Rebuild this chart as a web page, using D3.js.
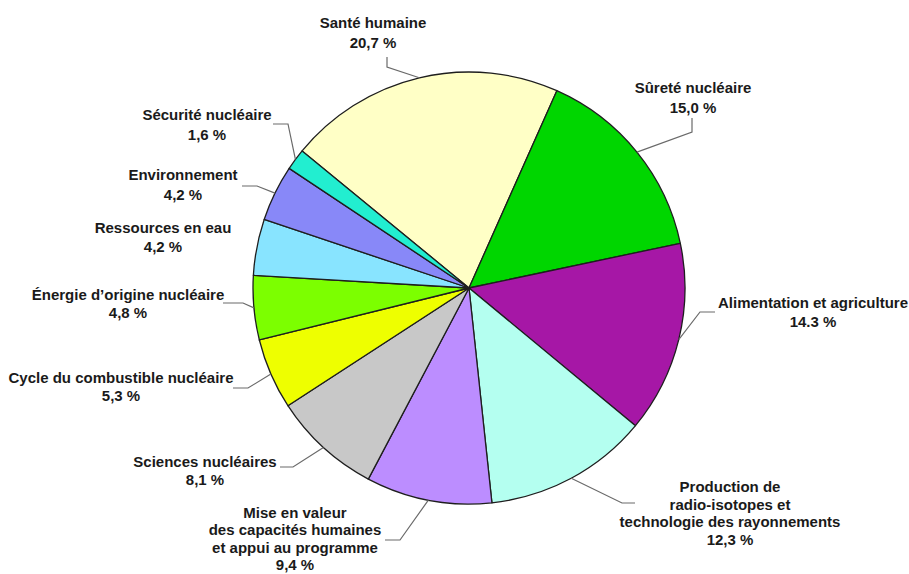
<!DOCTYPE html>
<html lang="fr">
<head>
<meta charset="utf-8">
<script src="https://cdn.jsdelivr.net/npm/d3@7"></script>
<style>
  html, body { margin: 0; padding: 0; background: #fff; }
  svg { display: block; }
  text { font-family: "Liberation Sans", Arial, sans-serif; font-weight: bold; font-size: 15px; fill: #1a1a1a; }
</style>
</head>
<body>
<svg id="chart" width="909" height="574"></svg>
<script>
// Programme areas (clockwise, starting with Santé humaine)
const categories = [
  ["Santé humaine"],
  ["Sûreté nucléaire"],
  ["Alimentation et agriculture"],
  ["Production de", "radio-isotopes et", "technologie des rayonnements"],
  ["Mise en valeur", "des capacités humaines", "et appui au programme"],
  ["Sciences nucléaires"],
  ["Cycle du combustible nucléaire"],
  ["Énergie d’origine nucléaire"],
  ["Ressources en eau"],
  ["Environnement"],
  ["Sécurité nucléaire"]
];
const values = [20.7, 15.0, 14.3, 12.3, 9.4, 8.1, 5.3, 4.8, 4.2, 4.2, 1.6];
const valueLabels = ["20,7 %", "15,0 %", "14.3 %", "12,3 %", "9,4 %", "8,1 %", "5,3 %", "4,8 %", "4,2 %", "4,2 %", "1,6 %"];
const colors = ["#FFFFC6", "#00D600", "#A617A6", "#B4FFF0", "#BC8DFF", "#C8C8C8",
                "#EEFF00", "#7CFF00", "#88E4FF", "#8888F8", "#22EED0"];

// Label placement: text centre x, first baseline y, line step, leader bend points
const labelLayout = [
  { x: 373, y: 28,  step: 20,   leader: [[387, 57], [387, 67]] },
  { x: 693, y: 93,  step: 20,   leader: [[692, 118], [692, 132]] },
  { x: 813, y: 308, step: 19,   leader: [[715, 312], [700, 312]] },
  { x: 730, y: 492, step: 17.7, leader: [[635, 503], [622, 503]] },
  { x: 295, y: 518, step: 17.4, leader: [[385, 540], [400, 540]] },
  { x: 205, y: 467, step: 18,   leader: [[280, 467], [293, 467]] },
  { x: 121, y: 383, step: 17.5, leader: [[233, 388], [248, 388]] },
  { x: 128, y: 300, step: 17.5, leader: [[223, 303], [243, 303]] },
  { x: 163, y: 233, step: 19,   leader: null },
  { x: 183, y: 180, step: 20,   leader: [[242, 186], [257, 186]] },
  { x: 207, y: 120, step: 20,   leader: [[273, 124], [288, 124]] }
];

const cx = 469, cy = 288, radius = 216;
const total = d3.sum(values);
// Santé humaine ends 24° clockwise from twelve o'clock
const startAngle = (24 * Math.PI / 180) - (values[0] / total) * 2 * Math.PI;

const svg = d3.select("#chart");
const g = svg.append("g").attr("transform", `translate(${cx},${cy})`);

const pie = d3.pie().sort(null).value(d => d)
  .startAngle(startAngle).endAngle(startAngle + 2 * Math.PI);
const arcs = pie(values);

const arc = d3.arc().innerRadius(0).outerRadius(radius);
const rim = d3.arc().innerRadius(radius).outerRadius(radius);

g.selectAll("path.slice")
  .data(arcs)
  .join("path")
  .attr("class", "slice")
  .attr("d", arc)
  .attr("fill", (d, i) => colors[i])
  .attr("stroke", "#1e1e1e")
  .attr("stroke-width", 1.3)
  .attr("stroke-linejoin", "round");

// Leader lines from the rim of each slice to its label
const line = d3.line();
svg.selectAll("path.leader")
  .data(arcs.filter((d, i) => labelLayout[i].leader))
  .join("path")
  .attr("class", "leader")
  .attr("d", d => {
    const L = labelLayout[d.index];
    const [px, py] = rim.centroid(d);
    return line([...L.leader, [cx + px, cy + py]]);
  })
  .attr("fill", "none")
  .attr("stroke", "#6a6a6a")
  .attr("stroke-width", 1.2);

// Labels: category name lines followed by the share
const labels = svg.selectAll("text.label")
  .data(categories)
  .join("text")
  .attr("class", "label")
  .attr("text-anchor", "middle")
  .attr("x", (d, i) => labelLayout[i].x)
  .attr("y", (d, i) => labelLayout[i].y);

labels.each(function (lines, i) {
  const L = labelLayout[i];
  d3.select(this).selectAll("tspan")
    .data([...lines, valueLabels[i]])
    .join("tspan")
    .attr("x", L.x)
    .attr("y", (t, k) => L.y + k * L.step)
    .text(t => t);
});
</script>
</body>
</html>
